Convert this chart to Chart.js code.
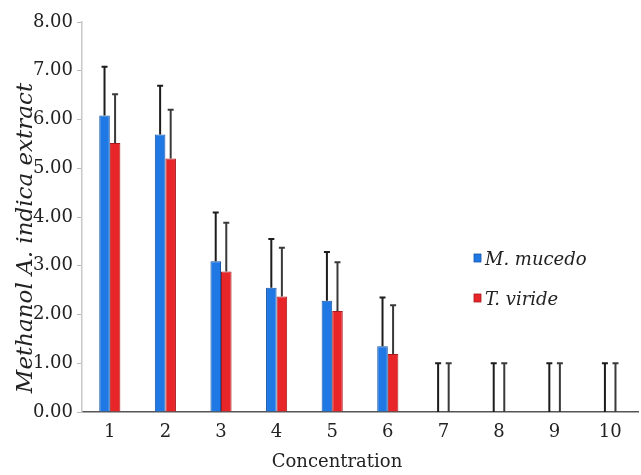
<!DOCTYPE html>
<html>
<head>
<meta charset="utf-8">
<script src="https://cdn.jsdelivr.net/npm/chart.js@4/dist/chart.umd.min.js"></script>
<style>
  html, body { margin: 0; padding: 0; background: #fff; }
  #wrap { width: 641px; height: 475px; }
</style>
</head>
<body>
<div id="wrap"><canvas id="chart"></canvas></div>
<script>
const categories = ['1', '2', '3', '4', '5', '6', '7', '8', '9', '10'];
const mucedo = [6.08, 5.69, 3.09, 2.55, 2.28, 1.35, 0, 0, 0, 0];
const viride = [5.52, 5.20, 2.88, 2.37, 2.07, 1.19, 0, 0, 0, 0];
const mucedoErr = [1.0, 1.0, 1.0, 1.0, 1.0, 1.0, 1.0, 1.0, 1.0, 1.0];
const virideErr = [1.0, 1.0, 1.0, 1.0, 1.0, 1.0, 1.0, 1.0, 1.0, 1.0];
const yTicks = [0, 1, 2, 3, 4, 5, 6, 7, 8];

const serif = "'DejaVu Serif', 'Liberation Serif', serif";

// upward-only error bars with a small cap
const errorBars = {
  id: 'errorBars',
  afterDatasetsDraw(chart) {
    const { ctx, scales: { y } } = chart;
    const errs = [mucedoErr, virideErr];
    const colors = ['#1c1c1c', '#3a3a3a'];
    chart.data.datasets.forEach((ds, i) => {
      const meta = chart.getDatasetMeta(i);
      meta.data.forEach((bar, j) => {
        const top = y.getPixelForValue(ds.data[j] + errs[i][j]);
        const base = y.getPixelForValue(ds.data[j]);
        ctx.save();
        ctx.strokeStyle = colors[i];
        ctx.lineWidth = 2;
        ctx.beginPath();
        ctx.moveTo(bar.x, base);
        ctx.lineTo(bar.x, top);
        ctx.moveTo(bar.x - 3, top);
        ctx.lineTo(bar.x + 3, top);
        ctx.stroke();
        ctx.restore();
      });
    });
  }
};

// axis titles + legend placed like the original figure
const decorations = {
  id: 'decorations',
  afterDraw(chart) {
    const { ctx } = chart;
    ctx.save();
    ctx.fillStyle = '#222';

    ctx.font = `18px ${serif}`;
    ctx.textAlign = 'center';
    ctx.textBaseline = 'middle';
    ctx.fillText('Concentration', 337, 462);

    ctx.save();
    ctx.translate(26, 238);
    ctx.rotate(-Math.PI / 2);
    ctx.font = `italic 23px ${serif}`;
    ctx.fillText('Methanol A. indica extract', 0, 0);
    ctx.restore();

    ctx.font = `italic 18px ${serif}`;
    ctx.textAlign = 'left';
    ctx.textBaseline = 'alphabetic';
    chart.data.datasets.forEach((ds, i) => {
      const yy = 258 + i * 40;
      ctx.fillStyle = ds.backgroundColor;
      ctx.fillRect(474, yy - 4, 7, 8);
      ctx.strokeStyle = ds.borderColor;
      ctx.lineWidth = 0.8;
      ctx.strokeRect(474, yy - 4, 7, 8);
      ctx.fillStyle = '#222';
      ctx.fillText(ds.label, 485, yy + 7);
    });
    ctx.restore();
  }
};

new Chart(document.getElementById('chart'), {
  type: 'bar',
  data: {
    labels: categories,
    datasets: [
      { label: 'M. mucedo', data: mucedo, backgroundColor: '#1f78e4', borderColor: '#1656a8', borderWidth: { left: 1, right: 1, top: 1 } },
      { label: 'T. viride', data: viride, backgroundColor: '#e8262a', borderColor: '#a81a1c', borderWidth: { left: 1, right: 1, top: 1 } }
    ]
  },
  options: {
    responsive: true,
    maintainAspectRatio: false,
    animation: false,
    layout: { padding: { top: 22, right: 3, left: 0, bottom: 0 } },
    datasets: { bar: { categoryPercentage: 0.38, barPercentage: 1.0 } },
    plugins: { legend: { display: false }, tooltip: { enabled: false } },
    scales: {
      x: {
        grid: { display: false },
        border: { color: '#555', width: 1.5 },
        ticks: { color: '#222', font: { family: serif, size: 18 }, padding: 2 },
        afterFit: s => { s.height = 63; }
      },
      y: {
        min: 0,
        max: 8,
        afterBuildTicks: s => { s.ticks = yTicks.map(v => ({ value: v })); },
        grid: { drawOnChartArea: false, tickLength: 5, color: '#bbb' },
        border: { color: '#c8c8c8', width: 1.5 },
        ticks: { color: '#222', font: { family: serif, size: 18 }, padding: 4, callback: v => v.toFixed(2) },
        afterFit: s => { s.width = 82; }
      }
    }
  },
  plugins: [errorBars, decorations]
});
</script>
</body>
</html>
